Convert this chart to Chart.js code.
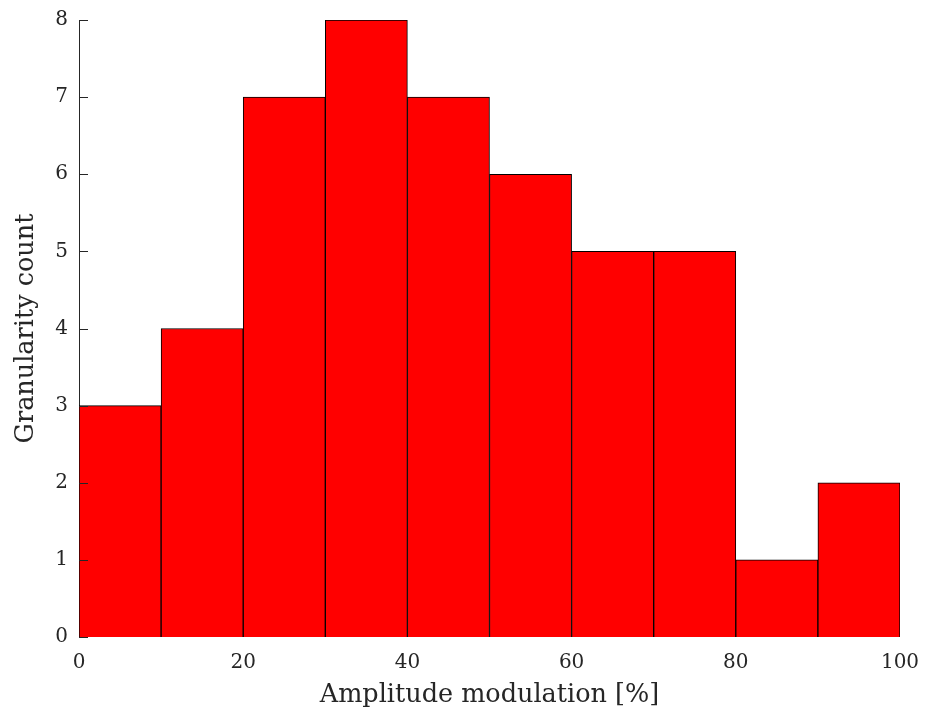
<!DOCTYPE html>
<html>
<head>
<meta charset="utf-8">
<script src="https://cdn.jsdelivr.net/npm/chart.js@4/dist/chart.umd.min.js"></script>
<style>
  html, body { margin: 0; padding: 0; background: #fff; }
  #wrap { width: 925px; height: 717px; }
</style>
</head>
<body>
<div id="wrap"><canvas id="histo" width="925" height="717"></canvas></div>
<script>
// histogram bins (edges every 10 %)
var binStarts = [0, 10, 20, 30, 40, 50, 60, 70, 80, 90];
var binWidth = 10;
var counts = [3, 4, 7, 8, 7, 6, 5, 5, 1, 2];
var xTicks = [0, 20, 40, 60, 80, 100];
var yTicks = [0, 1, 2, 3, 4, 5, 6, 7, 8];

var axisColor = '#262626';
var serif = '"DejaVu Serif", "Liberation Serif", serif';

var points = binStarts.map(function (s, i) {
    return { x: s + binWidth / 2, y: counts[i] };
});

// tick marks pointing into the plot, like the left axis of a matlab figure
var innerTicks = {
    id: 'innerTicks',
    afterDraw: function (chart) {
        var c = chart.ctx;
        var y = chart.scales.y;
        c.save();
        c.strokeStyle = axisColor;
        c.lineWidth = 1;
        yTicks.forEach(function (v) {
            var py = Math.round(y.getPixelForValue(v)) + 0.5;
            c.beginPath();
            c.moveTo(y.right, py);
            c.lineTo(y.right + 9, py);
            c.stroke();
        });
        c.restore();
    }
};

var histo = new Chart(document.getElementById('histo'), {
    type: 'bar',
    data: {
        datasets: [{
            data: points,
            backgroundColor: '#ff0000',
            borderColor: '#000000',
            borderWidth: 1,
            barPercentage: 1,
            categoryPercentage: 1
        }]
    },
    options: {
        responsive: false,
        animation: false,
        layout: { padding: { top: 20, right: 25, left: 0, bottom: 0 } },
        plugins: { legend: { display: false }, tooltip: { enabled: false } },
        scales: {
            x: {
                type: 'linear',
                min: 0,
                max: 100,
                offset: false,
                afterBuildTicks: function (s) { s.ticks = xTicks.map(function (v) { return { value: v }; }); },
                afterFit: function (s) { s.height = 80; s.paddingLeft = 0; s.paddingRight = 0; },
                grid: { display: false, drawTicks: false },
                border: { display: false },
                ticks: { color: axisColor, font: { family: serif, size: 20 }, padding: 14, maxRotation: 0 },
                title: {
                    display: true,
                    text: 'Amplitude modulation [%]',
                    color: axisColor,
                    font: { family: serif, size: 25.5 },
                    padding: { top: 0, bottom: 6 }
                }
            },
            y: {
                min: 0,
                max: 8,
                afterBuildTicks: function (s) { s.ticks = yTicks.map(function (v) { return { value: v }; }); },
                afterFit: function (s) { s.width = 79; s.paddingTop = 0; s.paddingBottom = 0; },
                grid: { display: false, drawTicks: false },
                border: { display: true, color: axisColor, width: 1 },
                ticks: { color: axisColor, font: { family: serif, size: 20 }, padding: 11 },
                title: {
                    display: true,
                    text: 'Granularity count',
                    color: axisColor,
                    font: { family: serif, size: 25.5 },
                    padding: { top: 11, bottom: 0 }
                }
            }
        }
    },
    plugins: [innerTicks]
});
</script>
</body>
</html>
